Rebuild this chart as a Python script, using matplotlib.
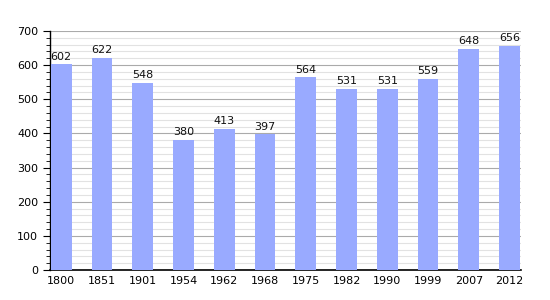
import matplotlib
matplotlib.use("Agg")
import matplotlib.pyplot as plt
from matplotlib.ticker import MultipleLocator

years = ["1800", "1851", "1901", "1954", "1962", "1968", "1975", "1982", "1990", "1999", "2007", "2012"]
population = [602, 622, 548, 380, 413, 397, 564, 531, 531, 559, 648, 656]

fig = plt.figure(figsize=(5.5, 3), dpi=100)
ax = fig.add_axes([0.0909, 0.1, 0.856, 0.797])

x = list(range(len(years)))
w = 0.51
ax.bar(x, population, width=w, color="#99aaff", zorder=3)
for xi, v in zip(x, population):
    ax.text(xi, v + 8, str(v), ha="center", va="bottom", fontsize=8, color="#111111", zorder=4)

ax.set_xlim(-w / 2 - 0.02, len(years) - 1 + w / 2 + 0.02)
ax.set_ylim(0, 700)
ax.set_xticks(x)
ax.set_xticklabels(years, fontsize=8)
ax.yaxis.set_major_locator(MultipleLocator(100))
ax.yaxis.set_minor_locator(MultipleLocator(20))
ax.tick_params(axis="y", which="major", labelsize=8, length=5, direction="out")
ax.tick_params(axis="y", which="minor", length=3, direction="out")
ax.tick_params(axis="x", length=0, pad=4)
ax.grid(axis="y", which="major", color="#aaaaaa", linewidth=0.8, zorder=1)
ax.grid(axis="y", which="minor", color="#e2e2e2", linewidth=0.8, zorder=0)
for s in ["top", "right"]:
    ax.spines[s].set_visible(False)
ax.spines["left"].set_linewidth(1.0)
ax.spines["bottom"].set_linewidth(1.2)

fig.savefig("out.png", dpi=100)
